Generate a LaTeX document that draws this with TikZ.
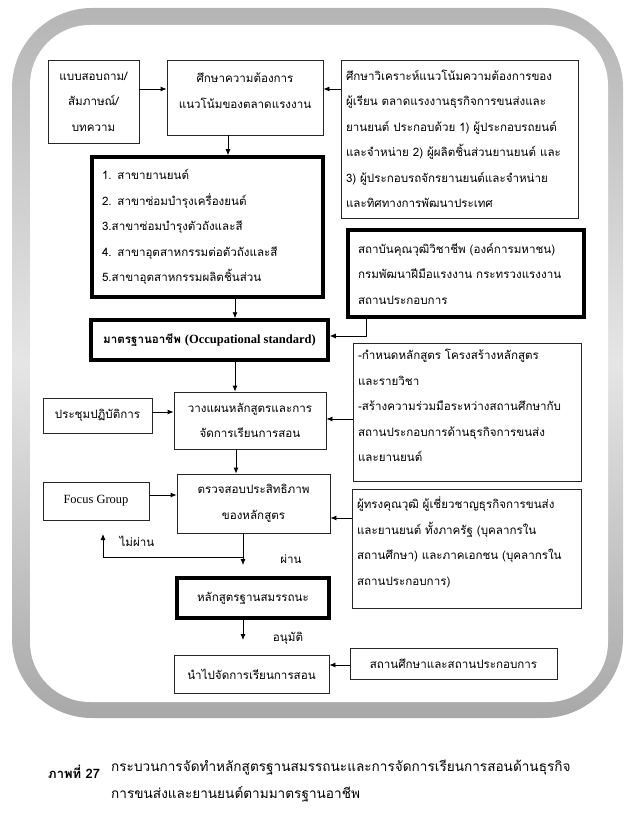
\documentclass[tikz,border=0pt]{standalone}
\usepackage{fontspec}
\setmainfont[Script=Thai]{Loma}
\newfontfamily\thai[Script=Thai]{Loma}
\newfontfamily\lat{Liberation Serif}
\usetikzlibrary{arrows.meta}
\begin{document}
\begin{tikzpicture}[x=1pt,y=-1pt,
  txt/.style={font=\thai\fontsize{11.6}{25.5}\selectfont},
  box/.style={txt, draw=black!85, line width=0.8pt, inner sep=0pt, align=center},
  tbox/.style={box, draw=black, line width=3.5pt},
  lbox/.style={box, align=left, inner ysep=0pt},
  arr/.style={draw=black, line width=0.8pt, -{Latex[length=6pt,width=5pt]}},
  lab/.style={txt, inner sep=0pt}]
\useasboundingbox (0,0) rectangle (638,818);
% frame
\shade[top color=gray!58, bottom color=gray!68, middle color=gray!20, rounded corners=80pt] (12,8) rectangle (623,718);
\fill[white, rounded corners=60pt] (30,25) rectangle (608,702);
% boxes
\node[box, minimum width=91pt, minimum height=83pt] (A) at (93.5,101.5) {แบบสอบถาม/\\สัมภาษณ์/\\บทความ};
\node[box, minimum width=156pt, minimum height=75pt] (B) at (245,97.5) {ศึกษาความต้องการ\\แนวโน้มของตลาดแรงงาน\\[-12pt]};
\node[lbox, text width=227pt, inner xsep=5pt, minimum height=158pt] (C) at (459.5,139) {ศึกษาวิเคราะห์แนวโน้มความต้องการของ\\ผู้เรียน ตลาดแรงงานธุรกิจการขนส่งและ\\ยานยนต์ ประกอบด้วย 1) ผู้ประกอบรถยนต์\\และจำหน่าย 2) ผู้ผลิตชิ้นส่วนยานยนต์ และ\\3) ผู้ประกอบรถจักรยานยนต์และจำหน่าย\\และทิศทางการพัฒนาประเทศ};
\node[tbox, align=left, text width=211pt, inner xsep=10pt, minimum height=140pt] (L) at (207.5,227) {1. สาขายานยนต์\\2. สาขาซ่อมบำรุงเครื่องยนต์\\3.สาขาซ่อมบำรุงตัวถังและสี\\4. สาขาอุตสาหกรรมต่อตัวถังและสี\\5.สาขาอุตสาหกรรมผลิตชิ้นส่วน};
\node[tbox, align=left, text width=216pt, inner xsep=10pt, minimum height=87pt] (D) at (466,273.5) {สถาบันคุณวุฒิวิชาชีพ (องค์การมหาชน)\\กรมพัฒนาฝีมือแรงงาน กระทรวงแรงงาน\\สถานประกอบการ};
\node[tbox, minimum width=237pt, minimum height=40pt] (S) at (209.5,340) {\bfseries มาตรฐานอาชีพ {\lat\fontsize{12.5}{14}\selectfont\bfseries (Occupational standard)}};
\node[lbox, text width=218pt, inner xsep=5pt, minimum height=138pt] (E) at (467,412) {-กำหนดหลักสูตร โครงสร้างหลักสูตร\\และรายวิชา\\-สร้างความร่วมมือระหว่างสถานศึกษากับ\\สถานประกอบการด้านธุรกิจการขนส่ง\\และยานยนต์\\[-13pt]\mbox{}};
\node[box, minimum width=152pt, minimum height=57pt] (P) at (250,420.5) {วางแผนหลักสูตรและการ\\จัดการเรียนการสอน};
\node[box, minimum width=109pt, minimum height=35pt] (W) at (97.5,415.5) {ประชุมปฏิบัติการ};
\node[box, minimum width=106pt, minimum height=38pt] (Fg) at (96,501) {\lat\fontsize{12.5}{14}\selectfont Focus Group};
\node[box, minimum width=153pt, minimum height=59pt] (K) at (253.5,503.5) {ตรวจสอบประสิทธิภาพ\\ของหลักสูตร};
\node[lbox, text width=219pt, inner xsep=5pt, minimum height=119pt] (F) at (466.5,548.5) {ผู้ทรงคุณวุฒิ ผู้เชี่ยวชาญธุรกิจการขนส่ง\\และยานยนต์ ทั้งภาครัฐ (บุคลากรใน\\สถานศึกษา) และภาคเอกชน (บุคลากรใน\\สถานประกอบการ)\\[-11pt]\mbox{}};
\node[tbox, minimum width=152pt, minimum height=40pt] (M) at (253,598) {หลักสูตรฐานสมรรถนะ};
\node[box, minimum width=155pt, minimum height=38pt] (N) at (251.5,674) {นำไปจัดการเรียนการสอน};
\node[box, minimum width=207pt, minimum height=31pt] (G) at (453.5,663.5) {สถานศึกษาและสถานประกอบการ};
% labels
\node[lab] (fl) at (137,541) {ไม่ผ่าน};
\node[lab] (pl) at (291,559) {ผ่าน};
\node[lab] (al) at (288,638) {อนุมัติ};
% connectors
\coordinate (yAB) at (0,89);
\draw[arr] (A.east |- yAB) -- (B.west |- yAB);
\draw[arr] (C.west |- yAB) -- (B.east |- yAB);
\coordinate (x1) at (228,0);
\draw[arr] (B.south -| x1) -- (L.north -| x1);
\coordinate (x2) at (235,0);
\draw[arr] (L.south -| x2) -- (S.north -| x2);
\coordinate (xD) at (366,0);
\coordinate (yD) at (0,336);
\draw[arr] (D.south -| xD) |- (S.east |- yD);
\draw[arr] (S.south -| x2) -- (P.north -| x2);
\coordinate (yW) at (0,412);
\draw[arr] (W.east |- yW) -- (P.west |- yW);
\coordinate (yE) at (0,419);
\draw[arr] (E.west |- yE) -- (P.east |- yE);
\coordinate (x3) at (236,0);
\draw[arr] (P.south -| x3) -- (K.north -| x3);
\coordinate (yF1) at (0,495);
\draw[arr] (Fg.east |- yF1) -- (K.west |- yF1);
\coordinate (yF2) at (0,518);
\draw[arr] (F.west |- yF2) -- (K.east |- yF2);
\coordinate (x4) at (243,0);
\coordinate (pass) at (243,565);
\draw[arr] (K.south -| x4) -- (pass);
\coordinate (loopR) at (243,557);
\coordinate (fail) at (103,534);
\draw[arr] (loopR) -| (fail);
\coordinate (appr) at (243,640);
\draw[arr] (M.south -| x4) -- (appr);
\coordinate (yG) at (0,665);
\draw[arr] (G.west |- yG) -- (N.east |- yG);
% caption
\node[txt, anchor=west, inner sep=0pt, font=\thai\fontsize{13}{27}\selectfont\bfseries] (capL) at (48,772) {ภาพที่ 27};
\node[txt, anchor=north west, inner sep=0pt, align=left, font=\thai\fontsize{13.6}{27}\selectfont] (capT) at (111,760) {กระบวนการจัดทำหลักสูตรฐานสมรรถนะและการจัดการเรียนการสอนด้านธุรกิจ\\การขนส่งและยานยนต์ตามมาตรฐานอาชีพ};
\end{tikzpicture}
\end{document}
